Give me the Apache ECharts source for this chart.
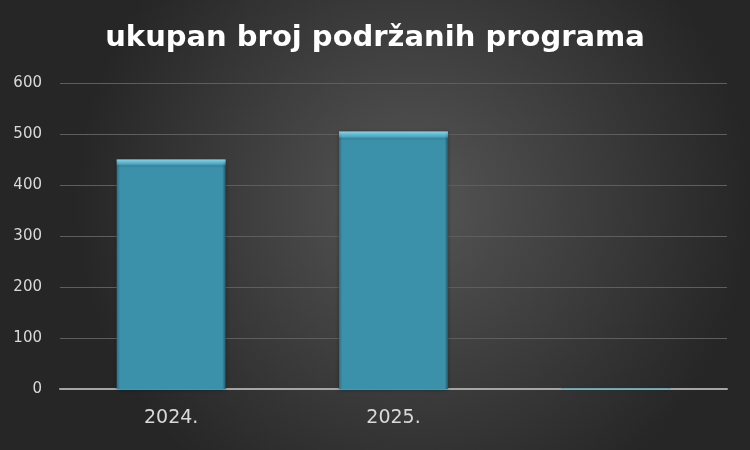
<!DOCTYPE html>
<html><head><meta charset="utf-8">
<script src="https://cdn.jsdelivr.net/npm/echarts@6/dist/echarts.min.js"></script>
<style>html,body{margin:0;padding:0;}#c{width:750px;height:450px;}</style>
</head><body><div id="c"></div>
<script>
const titleText = 'ukupan broj podržanih programa';
const categories = ['2024.', '2025.', ''];
const values = [450, 505, 1];
const yTicks = { min: 0, max: 600, interval: 100 };

const chart = echarts.init(document.getElementById('c'));
chart.setOption({
  animation: false,
  backgroundColor: {
    type: 'radial', x: 0.55, y: 0.45, r: 0.75,
    colorStops: [{ offset: 0, color: '#565656' }, { offset: 1, color: '#262626' }]
  },
  title: {
    text: titleText, left: 'center', top: 19,
    textStyle: { color: '#ffffff', fontSize: 29, fontWeight: 'bold', fontFamily: 'DejaVu Sans' }
  },
  grid: { left: 60, right: 23, top: 83, bottom: 61 },
  xAxis: {
    type: 'category', data: categories,
    axisLine: { lineStyle: { color: '#a6a6a6', width: 2 } },
    axisTick: { show: false },
    axisLabel: { color: '#d9d9d9', fontSize: 19, margin: 20, fontFamily: 'DejaVu Sans' }
  },
  yAxis: {
    type: 'value', min: yTicks.min, max: yTicks.max, interval: yTicks.interval,
    axisLine: { show: false }, axisTick: { show: false },
    splitLine: { lineStyle: { color: '#5e5e5e', width: 1 } },
    axisLabel: { color: '#d9d9d9', fontSize: 15, margin: 18, fontFamily: 'DejaVu Sans' }
  },
  series: [{
    type: 'bar', data: values, barWidth: '49%',
    itemStyle: {
      color: {
        type: 'linear', x: 0, y: 0, x2: 1, y2: 0,
        colorStops: [
          { offset: 0, color: '#2c6f85' }, { offset: 0.03, color: '#3b90aa' },
          { offset: 0.97, color: '#3b90aa' }, { offset: 1, color: '#24596b' }
        ]
      },
      shadowColor: 'rgba(0,0,0,0.35)', shadowBlur: 4, shadowOffsetY: 1
    }
  }, {
    type: 'bar', data: values, barWidth: '49%', barGap: '-100%', silent: true,
    itemStyle: {
      color: {
        type: 'linear', x: 0, y: 0, x2: 0, y2: 1, global: false,
        colorStops: [
          { offset: 0, color: 'rgba(140,225,245,0.9)' }, { offset: 0.02, color: 'rgba(110,205,230,0.4)' },
          { offset: 0.035, color: 'rgba(0,0,0,0)' }, { offset: 1, color: 'rgba(0,0,0,0)' }
        ]
      }
    }
  }]
});
</script></body></html>
